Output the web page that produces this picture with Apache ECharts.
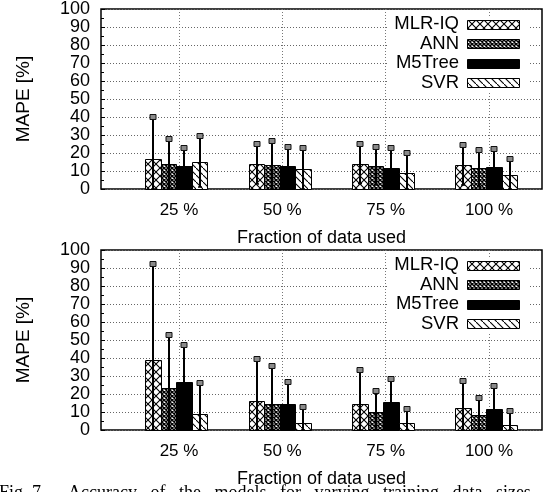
<!DOCTYPE html>
<html>
<head>
<meta charset="utf-8">
<script src="https://cdn.jsdelivr.net/npm/echarts@6/dist/echarts.min.js"></script>
<style>
  html, body { margin: 0; padding: 0; background: #fff; }
  #chart { width: 544px; height: 492px; }
</style>
</head>
<body>
<div id="chart"></div>
<script>
const categories = ['25 %', '50 %', '75 %', '100 %']
const models = ['MLR-IQ', 'ANN', 'M5Tree', 'SVR']

// upper panel: mean MAPE and error (std) per fraction
const mlrTop = [16.7, 13.9, 13.9, 13.3]
const mlrTopErr = [23.3, 11.1, 10.9, 11.1]
const annTop = [13.9, 13.3, 12.8, 11.7]
const annTopErr = [13.9, 13.6, 10.5, 10.2]
const m5Top = [13.0, 13.0, 11.7, 12.2]
const m5TopErr = [10.0, 10.3, 11.1, 10.2]
const svrTop = [15.2, 11.1, 9.1, 7.8]
const svrTopErr = [14.1, 11.9, 10.9, 8.9]

// lower panel
const mlrBot = [38.7, 16.1, 14.5, 12.5]
const mlrBotErr = [53.3, 23.5, 18.7, 14.6]
const annBot = [23.1, 14.4, 10.1, 8.4]
const annBotErr = [29.9, 21.3, 11.8, 9.5]
const m5Bot = [26.7, 14.4, 15.3, 11.9]
const m5BotErr = [20.3, 12.1, 13.1, 12.8]
const svrBot = [8.7, 3.7, 4.0, 2.9]
const svrBotErr = [17.6, 9.1, 7.5, 7.4]

const yTicks = [0, 10, 20, 30, 40, 50, 60, 70, 80, 90, 100]

const FONT = 'Liberation Sans'

// fill patterns, gnuplot style
function makePattern(kind) {
  const n = kind === 'dense' ? 4 : kind === 'cross' ? 8 : 7
  const c = document.createElement('canvas')
  c.width = n
  c.height = n
  const g = c.getContext('2d')
  g.fillStyle = '#fff'
  g.fillRect(0, 0, n, n)
  g.strokeStyle = '#000'
  g.lineWidth = kind === 'dense' ? 1.5 : 1.1
  g.beginPath()
  g.moveTo(0, 0)
  g.lineTo(n, n)
  if (kind !== 'back') {
    g.moveTo(n, 0)
    g.lineTo(0, n)
  }
  g.stroke()
  return { image: c, repeat: 'repeat' }
}
const fills = [makePattern('cross'), makePattern('dense'), '#000', makePattern('back')]

// panel geometry (frame grid + category grid)
const panels = [{ top: 9 }, { top: 250 }]
const PLOT_LEFT = 101
const PLOT_W = 441
const PLOT_H = 180

const grids = []
const xAxes = []
const yAxes = []
const series = []
const graphics = []

function barItem(k) {
  return function(params, api) {
    const c = api.value(0)
    const mean = api.value(1)
    const err = api.value(2)
    const unit = api.size([1, 0])[0]
    const bw = unit * 0.15
    const cx = api.coord([c, 0])[0]
    const left = Math.round(cx - 2 * bw - unit * 0.025 + k * bw)
    const right = Math.round(cx - 2 * bw - unit * 0.025 + (k + 1) * bw)
    const y0 = api.coord([c, 0])[1]
    const yTop = Math.round(api.coord([c, mean])[1])
    const ex = Math.round((left + right) / 2)
    const yHi = api.coord([c, mean + err])[1]
    const yLo = api.coord([c, Math.max(0, mean - err)])[1]
    return {
      type: 'group',
      children: [
        {
          type: 'rect',
          shape: { x: left + 0.5, y: yTop + 0.5, width: right - left, height: y0 - yTop },
          style: { fill: fills[k], stroke: '#000', lineWidth: 1 }
        },
        {
          type: 'line',
          shape: { x1: ex, y1: yLo, x2: ex, y2: yHi },
          style: { stroke: '#000', lineWidth: 2 }
        },
        {
          type: 'line',
          shape: { x1: ex - 2, y1: yLo, x2: ex + 2, y2: yLo },
          style: { stroke: '#000', lineWidth: 1.5 }
        },
        {
          type: 'rect',
          shape: { x: ex - 3, y: Math.round(yHi) - 2.5, width: 6, height: 5 },
          style: { fill: '#8a8a8a', stroke: '#111', lineWidth: 1 }
        }
      ]
    }
  }
}

panels.forEach(function(p, pi) {
  const gA = pi * 2
  const gB = pi * 2 + 1
  grids.push({
    left: PLOT_LEFT, top: p.top, width: PLOT_W, height: PLOT_H,
    show: true, borderColor: '#000', borderWidth: 1.5, backgroundColor: 'transparent'
  })
  // category grid: first and last category sit on the gridlines
  grids.push({ left: 179, top: p.top, width: 310, height: PLOT_H })

  xAxes.push({
    type: 'value', gridIndex: gA, min: 0, max: 1,
    axisLine: { show: false }, axisTick: { show: false }, axisLabel: { show: false },
    splitLine: { show: false },
    name: 'Fraction of data used', nameLocation: 'middle', nameGap: 40,
    nameTextStyle: { fontFamily: FONT, fontSize: 18, color: '#000' }
  })
  xAxes.push({
    type: 'category', gridIndex: gB, data: categories, boundaryGap: false,
    axisLine: { show: false }, axisTick: { show: false },
    axisLabel: { fontFamily: FONT, fontSize: 17, color: '#000', margin: 13 },
    splitLine: { show: true, lineStyle: { color: '#777', type: [1, 2], width: 1 } }
  })
  yAxes.push({
    type: 'value', gridIndex: gA, min: yTicks[0], max: yTicks[yTicks.length - 1], interval: 10,
    axisLine: { show: false },
    axisTick: { show: true, inside: true, length: 4, lineStyle: { color: '#000' } },
    minorTick: { show: true, splitNumber: 2, length: 3, lineStyle: { color: '#000' } },
    axisLabel: { fontFamily: FONT, fontSize: 18, color: '#000', margin: 11 },
    splitLine: { show: true, lineStyle: { color: '#666', type: [1, 2], width: 1 } },
    name: 'MAPE [%]', nameLocation: 'middle', nameGap: 68, nameRotate: 90,
    nameTextStyle: { fontFamily: FONT, fontSize: 19, color: '#000' }
  })
  yAxes.push({ type: 'value', gridIndex: gB, min: 0, max: 100, show: false })

  const means = pi === 0 ? [mlrTop, annTop, m5Top, svrTop] : [mlrBot, annBot, m5Bot, svrBot]
  const errs = pi === 0 ? [mlrTopErr, annTopErr, m5TopErr, svrTopErr] : [mlrBotErr, annBotErr, m5BotErr, svrBotErr]
  models.forEach(function(m, k) {
    series.push({
      name: m,
      type: 'custom',
      xAxisIndex: gB,
      yAxisIndex: gB,
      z: 3,
      renderItem: barItem(k),
      data: means[k].map(function(v, i) { return [i, v, errs[k][i]] })
    })
  })

  // key, gnuplot places it top right with an opaque box
  graphics.push({
    type: 'rect', z: 10,
    shape: { x: 387, y: p.top + 7, width: 141, height: 75 },
    style: { fill: '#fff' }
  })
  models.forEach(function(m, k) {
    const cy = p.top + 15 + k * 19.5
    graphics.push({
      type: 'text', z: 11, x: 459, y: cy,
      style: { text: m, fontFamily: FONT, fontSize: 18.5, fill: '#000', align: 'right', verticalAlign: 'middle' }
    })
    graphics.push({
      type: 'rect', z: 11,
      shape: { x: 467.5, y: Math.round(cy - 4.5) + 0.5, width: 52, height: 9 },
      style: { fill: fills[k], stroke: '#000', lineWidth: 1 }
    })
  })
})

graphics.push({
  type: 'text', z: 11, x: -1, y: 484,
  style: {
    text: 'Fig. 7.     Accuracy   of   the   models   for   varying   training   data   sizes   for',
    fontFamily: 'Liberation Serif', fontSize: 18, fill: '#000', align: 'left', verticalAlign: 'top'
  }
})

const chart = echarts.init(document.getElementById('chart'))
chart.setOption({
  animation: false,
  backgroundColor: '#fff',
  grid: grids,
  xAxis: xAxes,
  yAxis: yAxes,
  series: series,
  graphic: graphics
})
</script>
</body>
</html>
